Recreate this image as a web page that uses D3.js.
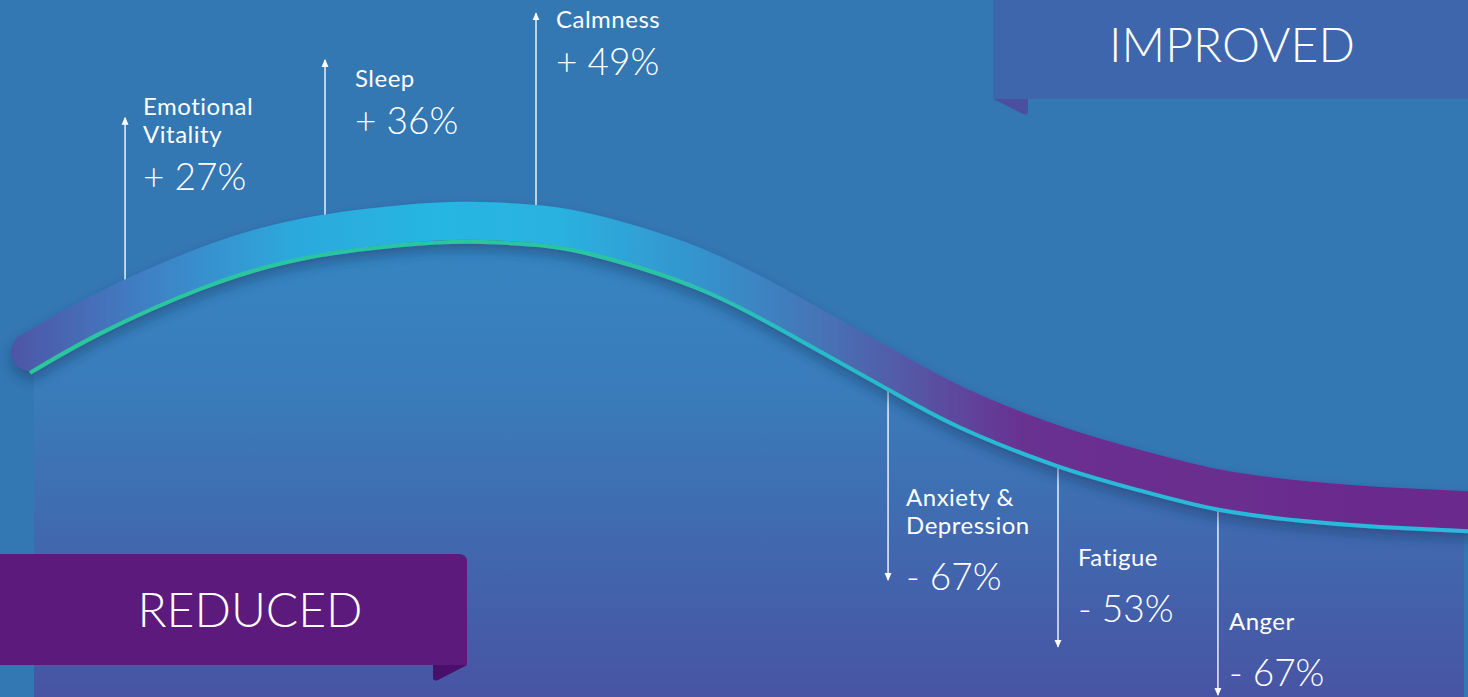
<!DOCTYPE html>
<html>
<head>
<meta charset="utf-8">
<script src="https://cdn.jsdelivr.net/npm/d3@7"></script>
<style>
  html, body { margin: 0; padding: 0; background: #3377b3; overflow: hidden; }
  svg { display: block; }
  text { font-family: Lato, "Open Sans", sans-serif; fill: #fff; }
</style>
</head>
<body>
<svg id="chart"></svg>
<script>
// Constants
const width = 1468;
const height = 697;

// Wellbeing curve: position along the track (0-100) and level (0-100)
const curveT = [1.1, 5.9, 12.8, 19.7, 26.6, 31.5, 36.3, 40.4, 47.3, 54.2, 60.3, 65.2, 72, 77.7, 83, 88.7, 94.2, 101];
const curveLevel = [46.5, 52.1, 58.5, 62.8, 64.8, 65.3, 64.8, 63.2, 58.5, 51.2, 44.1, 38.7, 33.1, 29.6, 26.9, 25.3, 24.4, 23.7];

// Annotated measures
const measures = [["Emotional", "Vitality"], ["Sleep"], ["Calmness"], ["Anxiety &", "Depression"], ["Fatigue"], ["Anger"]];
const changes = [27, 36, 49, -67, -53, -67];
const measureT = [7.66, 21.45, 36, 60.28, 72, 83.03];
const arrowTipLevel = [83.1, 91.4, 98.1, 16.8, 7.2, 0.3];
const labelLevel = [83.5, 87.5, 96, 27.4, 18.8, 9.6];

const banners = ["IMPROVED", "REDUCED"];

// Layout (pixels)
const labelDx = [18, 30, 20, 18, 20, 11];
const bandWidth = 38;
const bandLift = 21;
const panelStart = 1.38;

const x = d3.scaleLinear().domain([0, 100]).range([14, 1464]);
const y = d3.scaleLinear().domain([0, 100]).range([height, 0]);
const levelAt = d3.scaleLinear().domain(curveT).range(curveLevel);

const svg = d3.select("#chart")
  .attr("width", width)
  .attr("height", height)
  .attr("viewBox", [0, 0, width, height]);

const defs = svg.append("defs");

function linearGradient(id, attrs, stops) {
  const g = defs.append("linearGradient")
    .attr("id", id)
    .attr("gradientUnits", "userSpaceOnUse");
  Object.entries(attrs).forEach(([k, v]) => g.attr(k, v));
  g.selectAll("stop")
    .data(stops)
    .join("stop")
      .attr("offset", d => d[0])
      .attr("stop-color", d => d[1]);
}

linearGradient("panelFill", { x1: 0, x2: 0, y1: 200, y2: height }, [
  [0, "#3588c4"], [0.4, "#3a7bba"], [1, "#4854a4"]
]);
linearGradient("bandFill", { x1: 0, x2: width, y1: 0, y2: 0 }, [
  [0, "#5052a4"], [0.1, "#3f80c4"], [0.2, "#2ca9dc"], [0.3, "#27b6e2"], [0.38, "#2ab2df"],
  [0.48, "#3592cc"], [0.56, "#4673b6"], [0.62, "#5557a6"], [0.7, "#693090"], [1, "#6b2a8c"]
]);
linearGradient("lineFill", { x1: 0, x2: width, y1: 0, y2: 0 }, [
  [0, "#2bc79c"], [0.45, "#2cc4a4"], [0.55, "#28bcc6"], [0.7, "#29b9d6"], [1, "#2bb8df"]
]);

const shadow = defs.append("filter")
  .attr("id", "shadow")
  .attr("x", "-10%").attr("y", "-30%")
  .attr("width", "120%").attr("height", "180%");
shadow.append("feDropShadow")
  .attr("dx", 0).attr("dy", 7)
  .attr("stdDeviation", 6)
  .attr("flood-color", "#16305e")
  .attr("flood-opacity", 0.45);

const arrowHead = defs.append("marker")
  .attr("id", "arrow")
  .attr("viewBox", "0 -4 8 8")
  .attr("refX", 7).attr("refY", 0)
  .attr("markerWidth", 8).attr("markerHeight", 8)
  .attr("markerUnits", "userSpaceOnUse")
  .attr("orient", "auto");
arrowHead.append("path")
  .attr("d", "M0,-3.5L8,0L0,3.5Z")
  .attr("fill", "#fff");

const curveData = curveT.map((t, i) => ({ t, v: curveLevel[i] }));

// Panel under the curve
defs.append("clipPath")
  .attr("id", "panelClip")
  .append("rect")
    .attr("x", x(panelStart))
    .attr("y", 0)
    .attr("width", x(100) - x(panelStart))
    .attr("height", height);

svg.append("path")
  .datum(curveData)
  .attr("clip-path", "url(#panelClip)")
  .attr("fill", "url(#panelFill)")
  .attr("d", d3.area()
    .x(d => x(d.t))
    .y0(height)
    .y1(d => y(d.v))
    .curve(d3.curveNatural));

// Arrows
const items = measures.map((lines, i) => ({
  lines,
  change: changes[i],
  t: measureT[i],
  tip: arrowTipLevel[i],
  label: labelLevel[i],
  dx: labelDx[i]
}));

svg.append("g")
  .attr("stroke", "#fff")
  .attr("stroke-opacity", 0.9)
  .attr("stroke-width", 1.5)
  .selectAll("line")
  .data(items)
  .join("line")
    .attr("x1", d => x(d.t))
    .attr("x2", d => x(d.t))
    .attr("y1", d => y(levelAt(d.t)))
    .attr("y2", d => y(d.tip))
    .attr("marker-end", "url(#arrow)");

// Band and edge line
const lineGen = d3.line()
  .x(d => x(d.t))
  .y(d => y(d.v))
  .curve(d3.curveNatural);

const curveGroup = svg.append("g").attr("filter", "url(#shadow)");

curveGroup.append("path")
  .datum(curveData)
  .attr("fill", "none")
  .attr("stroke", "url(#bandFill)")
  .attr("stroke-width", bandWidth)
  .attr("stroke-linecap", "round")
  .attr("transform", `translate(0,${-bandLift})`)
  .attr("d", lineGen);

curveGroup.append("path")
  .datum(curveData)
  .attr("fill", "none")
  .attr("stroke", "url(#lineFill)")
  .attr("stroke-width", 4)
  .attr("d", lineGen);

// Labels
const labelGroups = svg.append("g")
  .selectAll("g")
  .data(items)
  .join("g")
    .attr("transform", d => `translate(${x(d.t) + d.dx},${y(d.label)})`);

labelGroups.selectAll("text.name")
  .data(d => d.lines)
  .join("text")
    .attr("class", "name")
    .attr("y", (d, i) => i * 28)
    .attr("font-size", 24)
    .attr("letter-spacing", 0.5)
    .text(d => d);

labelGroups.append("text")
  .attr("y", d => (d.lines.length - 1) * 28 + (d.change > 0 ? 47 : 56))
  .attr("font-size", 37)
  .attr("font-weight", 300)
  .text(d => `${d.change > 0 ? "+" : "-"} ${Math.abs(d.change)}%`);

// Banners
const improved = svg.append("g");
improved.append("path")
  .attr("d", "M993,99L1028,99L1028,111Q1028,116 1023,114Z")
  .attr("fill", "#4a4fa0");
improved.append("rect")
  .attr("x", 993).attr("y", 0)
  .attr("width", width - 993).attr("height", 99)
  .attr("fill", "#3e66ac");
improved.append("text")
  .attr("x", 1232).attr("y", 62)
  .attr("text-anchor", "middle")
  .attr("font-size", 48)
  .attr("font-weight", 300)
  .text(banners[0]);

const reduced = svg.append("g");
reduced.append("path")
  .attr("d", "M433,665L467,665L438,680Q433,682 433,677Z")
  .attr("fill", "#4a0f6a");
reduced.append("path")
  .attr("d", "M0,554L459,554Q467,554 467,562L467,665L0,665Z")
  .attr("fill", "#5c1a7c");
reduced.append("text")
  .attr("x", 250).attr("y", 627)
  .attr("text-anchor", "middle")
  .attr("font-size", 48)
  .attr("font-weight", 300)
  .text(banners[1]);
</script>
</body>
</html>
